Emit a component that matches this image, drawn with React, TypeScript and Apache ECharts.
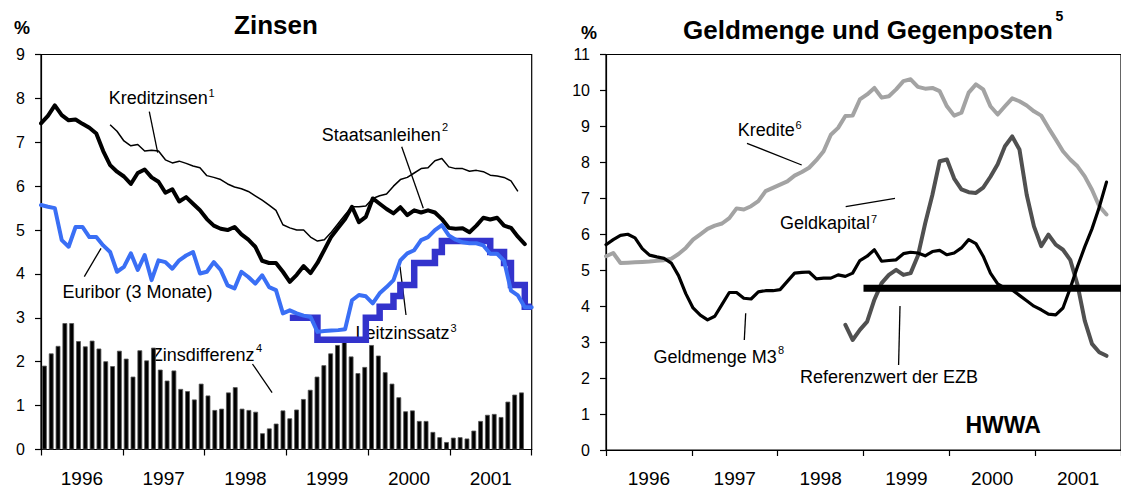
import React, { useEffect, useRef } from "react";
import * as echarts from "echarts";

// ---------- categories ----------
const years = ["1996", "1997", "1998", "1999", "2000", "2001"];
const months: string[] = [];
for (const y of years) for (let m = 1; m <= 12; m++) months.push(`${y}-${m < 10 ? "0" + m : m}`);

// ---------- left panel: Zinsen ----------
const zinsdifferenz = [
  1.91, 2.19, 2.36, 2.88, 2.88, 2.47, 2.35, 2.48, 2.3, 2.01, 1.9, 2.25,
  2.07, 1.66, 2.26, 2.03, 2.32, 1.82, 1.57, 1.8, 1.38, 1.33, 1.14, 1.5,
  1.23, 0.9, 0.93, 1.3, 1.42, 0.93, 0.9, 0.86, 0.37, 0.48, 0.59, 0.89,
  0.71, 0.91, 1.15, 1.36, 1.66, 1.92, 2.19, 2.38, 2.48, 2.12, 1.74, 1.88,
  2.38, 2.14, 1.76, 1.5, 1.19, 0.87, 0.89, 0.65, 0.65, 0.4, 0.28, 0.17,
  0.27, 0.28, 0.25, 0.43, 0.65, 0.79, 0.81, 0.74, 1.09, 1.25, 1.3,
];
const staatsanleihen = [
  7.43, 7.6, 7.84, 7.62, 7.5, 7.52, 7.42, 7.33, 7.2, 6.8, 6.48, 6.33,
  6.22, 6.05, 6.3, 6.38, 6.2, 6.1, 5.85, 5.93, 5.65, 5.75, 5.6, 5.45,
  5.25, 5.1, 5.03, 5.0, 5.07, 4.9, 4.78, 4.62, 4.3, 4.25, 4.25, 4.05,
  3.82, 3.98, 4.18, 4.02, 4.25, 4.55, 4.85, 5.05, 5.25, 5.53, 5.18, 5.3,
  5.72, 5.6, 5.48, 5.38, 5.52, 5.34, 5.45, 5.4, 5.45, 5.4, 5.25, 5.05,
  5.03, 5.04, 4.95, 5.1, 5.28, 5.24, 5.28, 5.1, 5.05, 4.85, 4.68,
];
const kreditzinsenStart = 10;
const kreditzinsen = [
  7.4, 7.25, 7.03, 6.92, 6.95, 6.8, 6.82, 6.8, 6.6, 6.53, 6.57, 6.52,
  6.46, 6.42, 6.24, 6.2, 6.15, 6.05, 5.98, 5.94, 5.88, 5.78, 5.68, 5.57,
  5.45, 5.12, 5.05, 5.0, 5.0, 4.84, 4.75, 4.78, 4.95, 5.15, 5.35, 5.53,
  5.53, 5.55, 5.72, 5.78, 5.82, 6.0, 6.15, 6.2, 6.3, 6.4, 6.42, 6.58,
  6.63, 6.44, 6.4, 6.4, 6.34, 6.36, 6.33, 6.25, 6.23, 6.2, 6.12, 5.88,
];
const euribor = [
  5.57, 5.53, 5.5, 4.77, 4.62, 5.07, 5.07, 4.84, 4.84, 4.65, 4.5, 4.05,
  4.16, 4.47, 4.09, 4.43, 3.86, 4.31, 4.27, 4.12, 4.31, 4.42, 4.5, 4.01,
  4.05, 4.27, 4.09, 3.74, 3.67, 4.05, 3.93, 3.78, 3.97, 3.7, 3.63, 3.1,
  3.17, 3.1, 3.05, 3.02, 2.68, 2.7, 2.71, 2.72, 2.74, 3.4, 3.52, 3.49,
  3.33, 3.56, 3.7, 3.86, 4.31, 4.47, 4.54, 4.77, 4.84, 5.0, 5.11, 4.88,
  4.78, 4.72, 4.7, 4.7, 4.65, 4.46, 4.46, 4.3, 3.62, 3.51, 3.24, 3.24,
];
const leitzinsStart = 36;
const leitzins = [
  3.0, 3.0, 3.0, 3.0, 2.5, 2.5, 2.5, 2.5, 2.5, 2.5, 2.5, 3.0,
  3.0, 3.25, 3.25, 3.5, 3.75, 3.75, 4.25, 4.25, 4.25, 4.5, 4.75, 4.75,
  4.75, 4.75, 4.75, 4.75, 4.75, 4.5, 4.5, 4.25, 3.75, 3.75, 3.25, 3.25,
];

// ---------- right panel: Geldmenge und Gegenposten ----------
const kredite = [
  5.39, 5.48, 5.2, 5.21, 5.22, 5.23, 5.24, 5.26, 5.28, 5.32, 5.45, 5.62,
  5.85, 6.0, 6.15, 6.24, 6.3, 6.45, 6.72, 6.69, 6.78, 6.92, 7.2, 7.29,
  7.38, 7.47, 7.63, 7.73, 7.85, 8.06, 8.31, 8.77, 8.96, 9.29, 9.3, 9.75,
  9.89, 10.07, 9.8, 9.84, 10.03, 10.26, 10.31, 10.1, 10.05, 10.07, 9.98, 9.56,
  9.3, 9.38, 9.94, 10.17, 10.03, 9.56, 9.33, 9.56, 9.78, 9.7, 9.58, 9.42,
  9.3, 8.96, 8.64, 8.31, 8.08, 7.89, 7.61, 7.24, 6.78, 6.55,
];
const geldmengeM3 = [
  5.71, 5.85, 5.97, 6.0, 5.9, 5.6, 5.42, 5.37, 5.33, 5.2, 4.85, 4.35,
  3.95, 3.75, 3.62, 3.72, 4.05, 4.38, 4.38, 4.22, 4.2, 4.4, 4.43, 4.43,
  4.46, 4.69, 4.92, 4.94, 4.95, 4.76, 4.78, 4.78, 4.87, 4.83, 4.92, 5.27,
  5.39, 5.57, 5.25, 5.27, 5.29, 5.46, 5.5, 5.48, 5.4, 5.52, 5.55, 5.43,
  5.48, 5.62, 5.85, 5.74, 5.39, 4.92, 4.62, 4.5, 4.45, 4.3, 4.15, 4.0,
  3.9, 3.78, 3.76, 3.95, 4.5, 5.1, 5.65, 6.15, 6.75, 7.45,
];
const geldkapitalStart = 33;
const geldkapital = [
  3.48, 3.06, 3.34, 3.57, 4.18, 4.64, 4.87, 5.01, 4.87, 4.92, 5.4, 6.3,
  7.1, 8.03, 8.08, 7.55, 7.25, 7.17, 7.15, 7.3, 7.6, 7.95, 8.45, 8.72,
  8.36, 7.1, 6.22, 5.67, 5.99, 5.71, 5.57, 5.29, 4.6, 3.6, 2.95, 2.72, 2.62,
];
const referenzwert = 4.5;
const referenzFrom = 35.5; // start of 1999 on the month scale
const referenzTo = 71;

const FONT = "'Liberation Sans', Arial, Helvetica, sans-serif";
const ANN = 18; // annotation font size
const SUP = 11; // superscript size

const pairs = (arr: number[], start = 0) => arr.map((v, k) => [k + start, v]);

function txt(x: number, y: number, text: string, size: number, bold = false, align = "left") {
  return {
    type: "text",
    x,
    y,
    silent: true,
    style: {
      text,
      fill: "#000",
      font: `${bold ? "bold " : ""}${size}px ${FONT}`,
      align,
      verticalAlign: "middle",
    },
  };
}
function lead(x1: number, y1: number, x2: number, y2: number) {
  return {
    type: "line",
    silent: true,
    shape: { x1, y1, x2, y2 },
    style: { stroke: "#000", lineWidth: 1.3 },
  };
}

export default function App() {
  const ref = useRef<HTMLDivElement>(null);
  useEffect(() => {
    if (!ref.current) return;
    const chart = echarts.init(ref.current, undefined, { renderer: "svg" });

    const yearAxis = (gridIndex: number) => ({
      type: "category",
      gridIndex,
      data: years,
      boundaryGap: true,
      axisLine: { show: true, lineStyle: { color: "#000", width: 1.2 } },
      axisTick: { show: true, length: 6, inside: false, lineStyle: { color: "#000", width: 1.2 } },
      axisLabel: { interval: 0, fontSize: 19, margin: 19, color: "#000", fontFamily: FONT },
      splitLine: { show: false },
    });
    const valAxis = (gridIndex: number, max: number) => ({
      type: "value",
      gridIndex,
      min: 0,
      max,
      interval: 1,
      axisLine: { show: true, lineStyle: { color: "#000", width: 1.2 } },
      axisTick: { show: true, length: 6, inside: false, lineStyle: { color: "#000", width: 1.2 } },
      axisLabel: { fontSize: 16, margin: 16, color: "#000", fontFamily: FONT },
      splitLine: { show: false },
    });

    const option: any = {
      animation: false,
      backgroundColor: "#fff",
      grid: [
        { left: 41, top: 54.5, width: 490.7, height: 395, show: true, borderColor: "#000", borderWidth: 1.2, containLabel: false },
        { left: 606, top: 54.5, width: 518, height: 395.5, show: true, borderColor: "#000", borderWidth: 1.2, containLabel: false },
      ],
      xAxis: [
        yearAxis(0),
        { type: "category", gridIndex: 0, data: months, boundaryGap: true, show: false },
        { type: "category", gridIndex: 0, data: months, boundaryGap: false, show: false },
        yearAxis(1),
        { type: "value", gridIndex: 1, min: 0, max: 71, show: false, splitLine: { show: false } },
      ],
      yAxis: [valAxis(0, 9), valAxis(1, 11)],
      series: [
        {
          name: "Zinsdifferenz",
          type: "bar",
          xAxisIndex: 1,
          yAxisIndex: 0,
          data: zinsdifferenz,
          barWidth: "70%",
          itemStyle: { color: "#000", borderColor: "#555", borderWidth: 0.8 },
          z: 1,
        },
        {
          name: "Kreditzinsen",
          type: "line",
          xAxisIndex: 2,
          yAxisIndex: 0,
          data: pairs(kreditzinsen, kreditzinsenStart),
          showSymbol: false,
          symbol: "none",
          lineStyle: { color: "#000", width: 1.5, join: "round" },
          z: 2,
        },
        {
          name: "Staatsanleihen",
          type: "line",
          xAxisIndex: 2,
          yAxisIndex: 0,
          data: pairs(staatsanleihen),
          showSymbol: false,
          symbol: "none",
          lineStyle: { color: "#000", width: 4, join: "round", cap: "round" },
          z: 3,
        },
        {
          name: "Leitzinssatz",
          type: "line",
          step: "end",
          xAxisIndex: 2,
          yAxisIndex: 0,
          data: pairs(leitzins, leitzinsStart),
          showSymbol: false,
          symbol: "none",
          lineStyle: { color: "#3333cc", width: 6.5, join: "miter" },
          z: 4,
        },
        {
          name: "Euribor",
          type: "line",
          xAxisIndex: 2,
          yAxisIndex: 0,
          data: pairs(euribor),
          showSymbol: false,
          symbol: "none",
          lineStyle: { color: "#3a6ff5", width: 4, join: "round", cap: "round" },
          z: 5,
        },
        {
          name: "Kredite",
          type: "line",
          xAxisIndex: 4,
          yAxisIndex: 1,
          data: pairs(kredite),
          showSymbol: false,
          symbol: "none",
          lineStyle: { color: "#a3a3a3", width: 4, join: "round", cap: "round" },
          z: 2,
        },
        {
          name: "Geldkapital",
          type: "line",
          xAxisIndex: 4,
          yAxisIndex: 1,
          data: pairs(geldkapital, geldkapitalStart),
          showSymbol: false,
          symbol: "none",
          lineStyle: { color: "#505050", width: 4, join: "round", cap: "round" },
          z: 3,
        },
        {
          name: "Geldmenge M3",
          type: "line",
          xAxisIndex: 4,
          yAxisIndex: 1,
          data: pairs(geldmengeM3),
          showSymbol: false,
          symbol: "none",
          lineStyle: { color: "#000", width: 3.2, join: "round", cap: "round" },
          z: 4,
        },
        {
          name: "Referenzwert der EZB",
          type: "line",
          xAxisIndex: 4,
          yAxisIndex: 1,
          data: [
            [referenzFrom, referenzwert],
            [referenzTo, referenzwert],
          ],
          showSymbol: false,
          symbol: "none",
          lineStyle: { color: "#000", width: 7, cap: "butt" },
          z: 5,
        },
      ],
      graphic: [
        // titles and units
        txt(276, 25, "Zinsen", 26, true, "center"),
        txt(868, 30, "Geldmenge und Gegenposten", 26, true, "center"),
        txt(1055.5, 16, "5", 14, true),
        txt(22, 28, "%", 18, true, "center"),
        txt(589, 33, "%", 18, true, "center"),
        // left annotations
        txt(108.7, 98, "Kreditzinsen", ANN),
        txt(208.5, 92.5, "1", SUP),
        lead(149.3, 111.7, 157.7, 152.7),
        txt(321.7, 135, "Staatsanleihen", ANN),
        txt(442, 127, "2", SUP),
        lead(401.7, 146.7, 423.3, 208.3),
        txt(62.5, 292, "Euribor (3 Monate)", ANN),
        lead(84.3, 276.7, 101, 248.3),
        txt(355.4, 333, "Leitzinssatz", ANN),
        txt(450.5, 328, "3", SUP),
        lead(400, 266.7, 406, 315),
        txt(151.8, 355, "Zinsdifferenz", ANN),
        txt(256, 348, "4", SUP),
        lead(252.5, 364, 272.1, 392.7),
        // right annotations
        txt(737.7, 130, "Kredite", ANN),
        txt(795.5, 125, "6", SUP),
        lead(747, 143.3, 801.7, 165),
        txt(780, 223, "Geldkapital", ANN),
        txt(871, 218.5, "7", SUP),
        lead(845.7, 206.7, 895, 198.3),
        txt(653.6, 357, "Geldmenge M3", ANN),
        txt(778, 350, "8", SUP),
        lead(745.7, 313.3, 744.3, 340),
        txt(800, 377, "Referenzwert der EZB", ANN),
        lead(900, 306, 898.6, 365),
        txt(965.4, 424.5, "HWWA", 23, true),
      ],
    };
    chart.setOption(option);
    return () => chart.dispose();
  }, []);

  return (
    <div
      ref={ref}
      style={{ position: "absolute", left: 0, top: 0, width: 1121, height: 489, background: "#fff" }}
    />
  );
}
